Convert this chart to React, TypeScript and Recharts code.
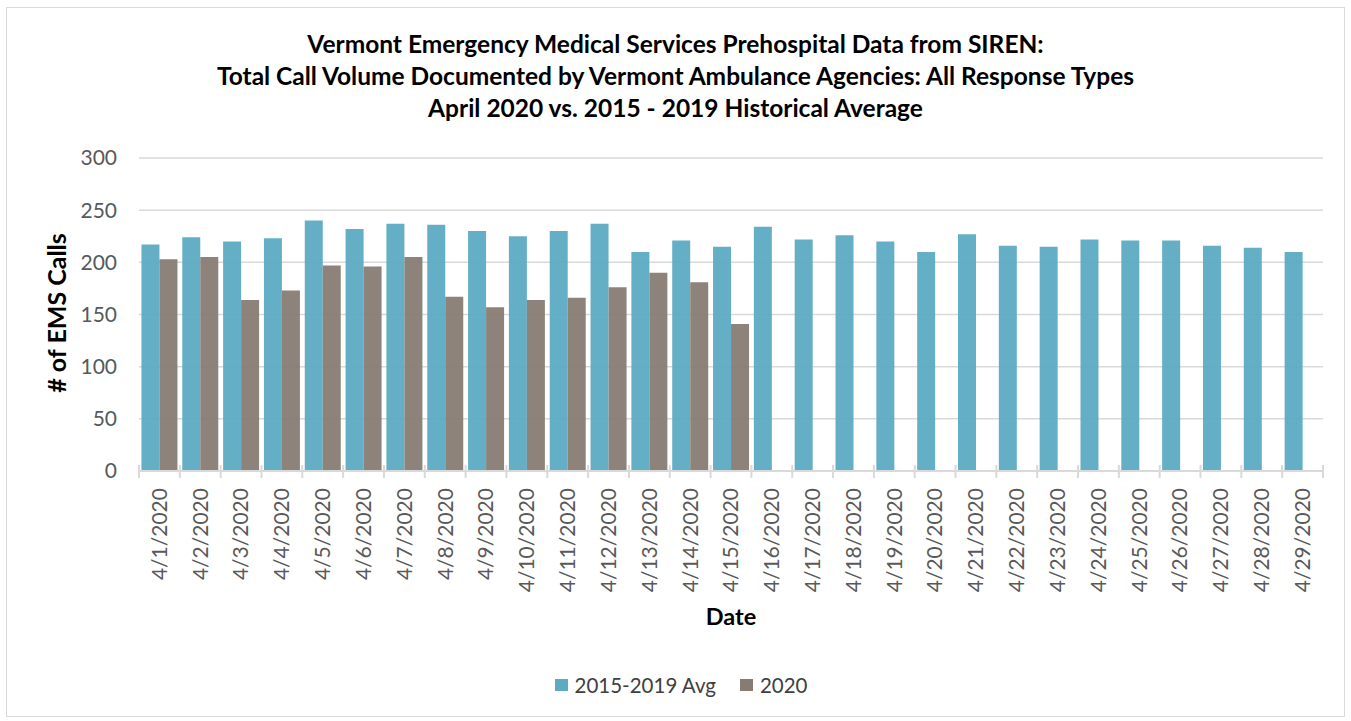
import React from 'react'
import { BarChart, Bar, XAxis, YAxis, CartesianGrid, Legend, Label } from 'recharts'

const dates = [
  '4/1/2020', '4/2/2020', '4/3/2020', '4/4/2020', '4/5/2020', '4/6/2020', '4/7/2020',
  '4/8/2020', '4/9/2020', '4/10/2020', '4/11/2020', '4/12/2020', '4/13/2020', '4/14/2020',
  '4/15/2020', '4/16/2020', '4/17/2020', '4/18/2020', '4/19/2020', '4/20/2020', '4/21/2020',
  '4/22/2020', '4/23/2020', '4/24/2020', '4/25/2020', '4/26/2020', '4/27/2020', '4/28/2020',
  '4/29/2020',
]

const histAvg = [
  217, 224, 220, 223, 240, 232, 237, 236, 230, 225, 230, 237, 210, 221, 215,
  234, 222, 226, 220, 210, 227, 216, 215, 222, 221, 221, 216, 214, 210,
]

const calls2020 = [
  203, 205, 164, 173, 197, 196, 205, 167, 157, 164, 166, 176, 190, 181, 141,
]

const yTicks = [0, 50, 100, 150, 200, 250, 300]

const titleLines = [
  'Vermont Emergency Medical Services Prehospital Data from SIREN:',
  'Total Call Volume Documented by Vermont Ambulance Agencies: All Response Types',
  'April 2020 vs. 2015 - 2019 Historical Average',
]

const data = dates.map((d, i) => ({
  date: d,
  avg: histAvg[i],
  y2020: i < calls2020.length ? calls2020[i] : null,
}))

const FONT = 'Lato, "Open Sans", sans-serif'
const BLUE = '#5CABC3'
const GRAY = '#877C73'

function DateTick(props: any) {
  const { x, y, payload, index } = props
  const half = payload?.offset || 20.4
  const last = index === dates.length - 1
  return (
    <g>
      <line x1={x - half} x2={x - half} y1={y - 6} y2={y + 7} stroke="#d9d9d9" strokeWidth={2} />
      {last && <line x1={x + half} x2={x + half} y1={y - 6} y2={y + 7} stroke="#d9d9d9" strokeWidth={2} />}
      <text
        x={x}
        y={y + 17}
        transform={`rotate(-90, ${x}, ${y + 17})`}
        textAnchor="end"
        dy="0.35em"
        fill="#595959"
        fontSize={21}
        fontFamily={FONT}
      >
        {payload.value}
      </text>
    </g>
  )
}

function LegendBox(props: any) {
  const items = [
    { label: '2015-2019 Avg', color: BLUE },
    { label: '2020', color: GRAY },
  ]
  return (
    <div style={{ display: 'flex', justifyContent: 'center', gap: 24, paddingLeft: 11, fontFamily: FONT, fontSize: 20.5, color: '#404040' }}>
      {items.map(it => (
        <div key={it.label} style={{ display: 'flex', alignItems: 'center', gap: 7 }}>
          <span style={{ width: 13, height: 12, background: it.color, display: 'inline-block' }} />
          <span>{it.label}</span>
        </div>
      ))}
    </div>
  )
}

export default function App() {
  return (
    <div style={{ position: 'absolute', left: 0, top: 0, width: 1351, height: 721, background: '#fff' }}>
      <div style={{ position: 'absolute', left: 6, top: 7, width: 1337, height: 708, border: '1px solid #d9d9d9' }} />
      <div style={{ position: 'absolute', top: 28, left: 0, width: 1351, textAlign: 'center', fontFamily: FONT, fontWeight: 700, fontSize: 24.5, lineHeight: '32px', color: '#000' }}>
        {titleLines.map(t => <div key={t}>{t}</div>)}
      </div>
      <BarChart
        width={1351}
        height={721}
        data={data}
        margin={{ top: 158, right: 28, bottom: 91, left: 59 }}
        barCategoryGap="6%"
        barGap={0}
        style={{ position: 'absolute', left: 0, top: 0 }}
      >
        <CartesianGrid vertical={false} stroke="#d9d9d9" strokeWidth={1.5} />
        <XAxis
          dataKey="date"
          interval={0}
          height={159}
          tickSize={0}
          tickMargin={0}
          axisLine={{ stroke: '#d9d9d9', strokeWidth: 2 }}
          tick={<DateTick />}
        >
          <Label value="Date" position="insideBottom" offset={5} fill="#000" fontSize={23.5} fontWeight={700} fontFamily={FONT} />
        </XAxis>
        <YAxis
          width={80}
          domain={[0, 300]}
          ticks={yTicks}
          axisLine={false}
          tickLine={false}
          tickSize={0}
          tickMargin={22}
          tick={{ fill: '#595959', fontSize: 21, fontFamily: FONT }}
          label={{
            content: () => (
              <text
                x={57}
                y={313}
                transform="rotate(-90, 57, 313)"
                textAnchor="middle"
                dy="0.35em"
                fill="#000"
                fontSize={25}
                fontWeight={700}
                fontFamily={FONT}
              >
                # of EMS Calls
              </text>
            ),
          }}
        />
        <Legend verticalAlign="middle" content={<LegendBox />} wrapperStyle={{ top: 673, left: 0, width: 1351 }} />
        <Bar dataKey="avg" name="2015-2019 Avg" fill={BLUE} fillOpacity={0.95} isAnimationActive={false} />
        <Bar dataKey="y2020" name="2020" fill={GRAY} fillOpacity={0.95} isAnimationActive={false} />
      </BarChart>
    </div>
  )
}
